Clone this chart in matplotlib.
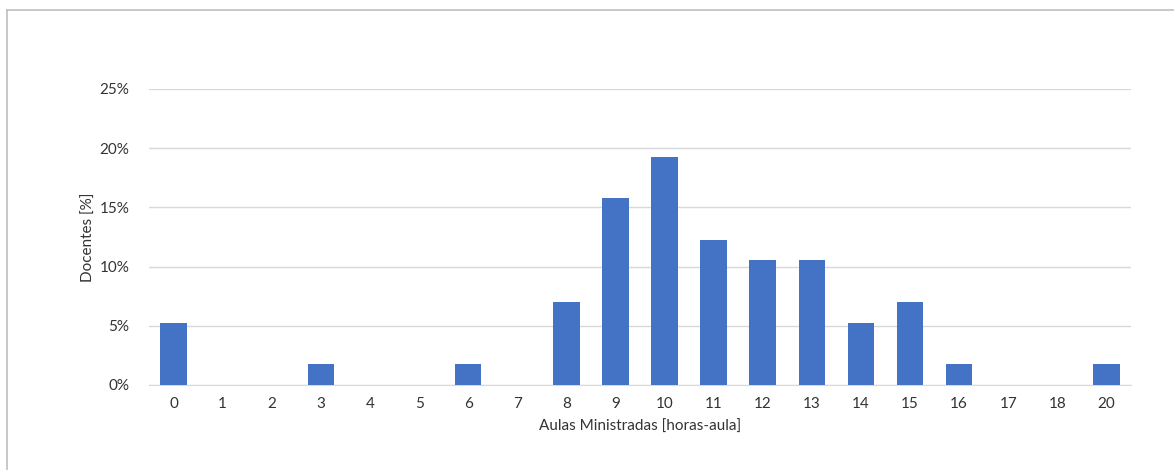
import matplotlib.pyplot as plt
from matplotlib.lines import Line2D
from matplotlib.ticker import PercentFormatter

# horas-aula categories and number of docentes (57 in total)
categorias = ['0', '1', '2', '3', '4', '5', '6', '7', '8', '9', '10',
              '11', '12', '13', '14', '15', '16', '17', '18', '20']
docentes = [3, 0, 0, 1, 0, 0, 1, 0, 4, 9, 11, 7, 6, 6, 3, 4, 1, 0, 0, 1]
total = sum(docentes)
percentual = [d / total for d in docentes]

plt.rcParams['font.family'] = ['Lato', 'DejaVu Sans']

fig = plt.figure(figsize=(11.74, 4.7), dpi=100, facecolor='white')
ax = fig.add_axes([149 / 1174, 1 - 385 / 470, (1131 - 149) / 1174, (385 - 89) / 470])

x = range(len(categorias))
ax.bar(x, percentual, width=0.54, color='#4472C4', zorder=3)

ax.set_xlim(-0.5, len(categorias) - 0.5)
ax.set_ylim(0, 0.25)
ax.set_yticks([0, 0.05, 0.10, 0.15, 0.20, 0.25])
ax.yaxis.set_major_formatter(PercentFormatter(1.0, decimals=0))
ax.set_xticks(list(x))
ax.set_xticklabels(categorias)
ax.grid(axis='y', color='#d9d9d9', linewidth=1, zorder=0)
for s in ['top', 'right', 'left']:
    ax.spines[s].set_visible(False)
ax.spines['bottom'].set_color('#d9d9d9')
ax.tick_params(axis='both', length=0, labelsize=11, colors='#333333', pad=9)
ax.tick_params(axis='y', pad=14)
ax.set_xlabel('Aulas Ministradas [horas-aula]', fontsize=11, color='#333333', labelpad=6)
ax.set_ylabel('Docentes [%]', fontsize=11, color='#333333', labelpad=3)

# chart area border (left and top edges visible)
fig.add_artist(Line2D([7 / 1174, 7 / 1174], [0, 1 - 10 / 470], color='#bfbfbf', linewidth=1.2))
fig.add_artist(Line2D([7 / 1174, 1], [1 - 10 / 470, 1 - 10 / 470], color='#bfbfbf', linewidth=1.2))

plt.savefig('out.png', dpi=100, facecolor='white')
